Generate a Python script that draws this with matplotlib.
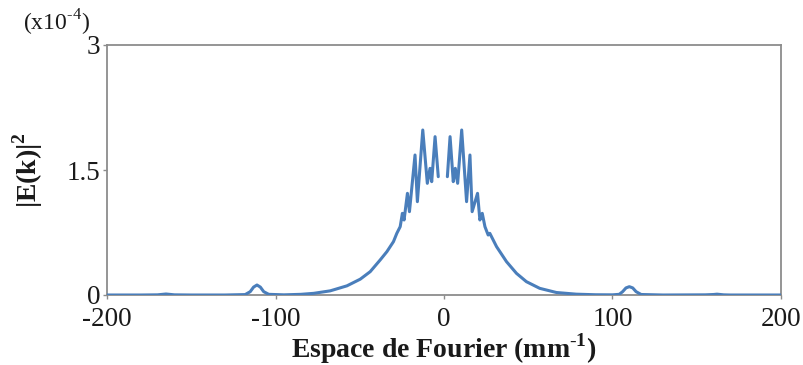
import numpy as np
import matplotlib
matplotlib.use("Agg")
import matplotlib.pyplot as plt

plt.rcParams['font.family'] = ['Liberation Serif', 'DejaVu Serif']
plt.rcParams['mathtext.fontset'] = 'custom'
plt.rcParams['mathtext.rm'] = 'Liberation Serif'
plt.rcParams['mathtext.bf'] = 'Liberation Serif:bold'

# Spatial frequency (mm^-1) and |E(k)|^2 (x1e-4)
k = [-200, -180, -170, -167, -165, -163, -160, -150, -130, -118, -115, -113, -111, -109, -107, -104,
     -95, -85, -77.3, -67.5, -57.6, -49.7, -43.8, -37.9, -33.9, -30.0, -28.0, -26.0, -24.7, -23.7,
     -21.7, -20.5, -17.2, -15.8, -12.6, -9.9, -8.3, -7.3, -5.3, -3.4, -0.7, 2.0, 3.6, 5.5, 6.7, 8.1,
     10.5, 13.4, 15.4, 16.7, 19.9, 21.3, 22.7, 24.3, 26.2, 27.2, 31.2, 37.1, 43.0, 48.9, 56.8, 66.7,
     78.5, 90, 100, 104, 106, 108, 110, 112, 114, 117, 130, 155, 160, 162, 164, 166, 170, 180, 200]
E = [0, 0, 0.002, 0.008, 0.012, 0.008, 0.002, 0, 0, 0.005, 0.04, 0.095, 0.12, 0.095, 0.04, 0.008,
     0.002, 0.008, 0.02, 0.05, 0.11, 0.19, 0.28, 0.42, 0.52, 0.64, 0.74, 0.82, 0.98, 0.90,
     1.22, 1.00, 1.68, 1.12, 1.98, 1.34, 1.52, 1.36, 1.90, 1.42, np.nan, 1.42, 1.90, 1.36, 1.52, 1.34,
     1.98, 1.12, 1.68, 1.00, 1.22, 0.90, 0.98, 0.82, 0.72, 0.74, 0.58, 0.40, 0.26, 0.16, 0.08, 0.03,
     0.01, 0.003, 0.002, 0.008, 0.04, 0.085, 0.10, 0.085, 0.04, 0.006, 0, 0.002, 0.006, 0.01, 0.006,
     0.002, 0, 0, 0]

x_ticks = [-200, -100, 0, 100, 200]
x_labels = ['-200', '-100', '0', '100', '200']
y_ticks = [0, 1.5, 3]
y_labels = ['0', '1.5', '3']

fig = plt.figure(figsize=(8.04, 3.65), dpi=100)
ax = fig.add_axes([107/804, 1-295/365, (781-107)/804, (295-45)/365])

ax.plot(k, E, color='#4a7ebb', lw=2.2, solid_joinstyle='round', solid_capstyle='round', zorder=3)

ax.set_xlim(-200, 200)
ax.set_ylim(0, 3)
ax.set_xticks(x_ticks)
ax.set_xticklabels(x_labels)
ax.set_yticks(y_ticks)
ax.set_yticklabels(y_labels)

spine_col = '#8c8c8c'
for s in ax.spines.values():
    s.set_color(spine_col)
    s.set_linewidth(1.3)
ax.tick_params(axis='both', colors=spine_col, direction='out', length=3, width=1.0,
               labelsize=19.5, labelcolor='#1a1a1a')
ax.tick_params(axis='x', pad=6)
ax.tick_params(axis='y', pad=2)

ax.set_xlabel(r'Espace de Fourier (mm$^{\mathbf{\text{-}1}}$)', fontsize=20, fontweight='bold',
              color='#1a1a1a', labelpad=-1)
ax.set_ylabel(r'|E(k)|$^{\mathregular{2}}$', fontsize=20, fontweight='bold', color='#1a1a1a', labelpad=15)

fig.text(56/804, 1-23/365, r'(x10$^{\mathregular{\text{-}4}}$)', fontsize=17, color='#1a1a1a',
         ha='center', va='center')

fig.savefig('out.png', dpi=100)
